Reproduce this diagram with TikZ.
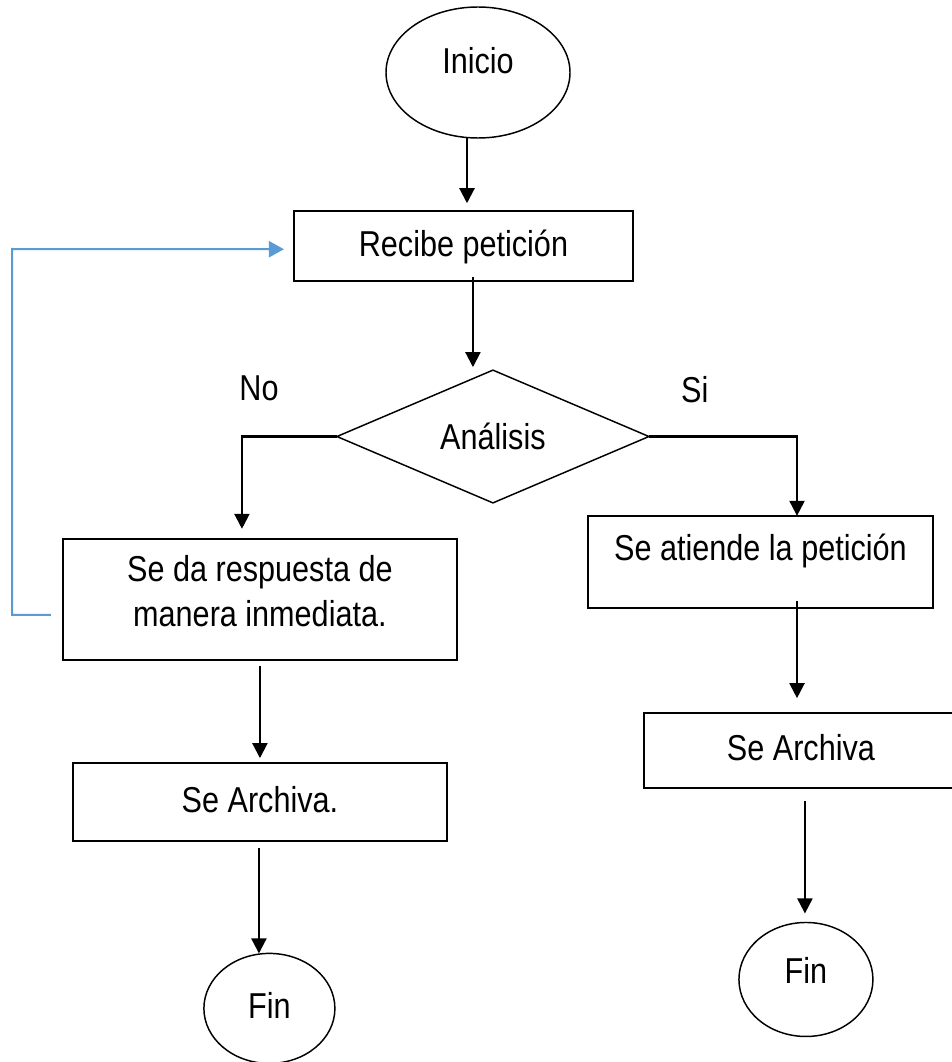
\documentclass[tikz,border=0pt]{standalone}
\usepackage{fontspec}
\setmainfont{Liberation Sans}[FakeStretch=0.85]
\usepackage{xcolor}
\usepackage{tikz}
\usetikzlibrary{shapes,arrows.meta,positioning}
\definecolor{azulretorno}{RGB}{91,155,213}

\begin{document}
\begin{tikzpicture}[x=0.75pt, y=-0.75pt, node distance=2cm, font=\fontsize{27}{33.75}\selectfont]
    % Define styles
    \tikzstyle{proceso} = [rectangle, draw=black, line width=1.3pt, inner sep=0pt, outer sep=0pt, text centered, align=center]
    \tikzstyle{linea} = [text height=20pt, text depth=5pt]
    \tikzstyle{decision} = [diamond, draw=black, line width=1.1pt, inner sep=0pt, outer sep=0pt, minimum width=234pt, minimum height=97.5pt, text height=20pt, text depth=0.5pt]
    \tikzstyle{terminal} = [ellipse, draw=black, line width=1.1pt, inner sep=0pt, outer sep=0pt, text height=20pt, text depth=5pt]
    \tikzstyle{etiqueta} = [text height=20pt, text depth=5pt, inner sep=0pt]
    \tikzstyle{flecha} = [-{Triangle[width=11.25pt,length=11.25pt]}, line width=1.6pt]
    \tikzstyle{retorno} = [-{Triangle[width=12pt,length=11.25pt]}, line width=1.5pt, draw=azulretorno]

    \useasboundingbox (0,0) rectangle (951,1062);

    % Nodes
    \node[terminal, minimum width=138pt, minimum height=98.25pt, text depth=19pt] (inicio) at (478,72.5) {Inicio};
    \node[proceso, linea, below of=inicio, xshift=-10.9pt, yshift=-73.4pt, minimum width=254.25pt, minimum height=52.5pt] (recibe) {Recibe petición};
    \node[decision, below of=recibe, xshift=22.1pt, yshift=-85.8pt] (analisis) {Análisis};
    \node[proceso, below of=analisis, xshift=-174.75pt, yshift=-65.2pt, minimum width=295.5pt, minimum height=90.75pt, text depth=12pt] (respuesta) {Se da respuesta de\\manera inmediata.};
    \node[proceso, linea, below of=analisis, xshift=200.65pt, yshift=-37.1pt, minimum width=258.75pt, minimum height=69pt, text depth=21.5pt] (atiende) {Se atiende la petición};
    \node[proceso, linea, below of=respuesta, yshift=-95.2pt, minimum width=280.5pt, minimum height=58.5pt] (archivaizq) {Se Archiva.};
    \node[terminal, below of=archivaizq, xshift=7.1pt, yshift=-97.8pt, minimum width=98.25pt, minimum height=82.5pt] (finizq) {Fin};
    \node[proceso, linea, below of=atiende, xshift=30.35pt, yshift=-84.7pt, minimum width=235.5pt, minimum height=56.25pt] (archivader) {Se Archiva};
    \node[terminal, below of=archivader, xshift=3.75pt, yshift=-114.7pt, minimum width=100.5pt, minimum height=85.5pt, text depth=14pt] (finder) {Fin};

    % Connections
    \draw[flecha, shorten >=6pt] ([xshift=-8.25pt]inicio.south) -- ([xshift=-8.25pt]inicio.south |- recibe.north);
    \draw[flecha, shorten <=-3pt, shorten >=2.25pt] ([xshift=7.1pt]recibe.south) -- ([xshift=7.1pt]recibe.south |- analisis.north);
    \draw[flecha, shorten >=7.5pt] (analisis.west) -| node[etiqueta, pos=0.41, yshift=34.5pt] (no) {No} ([xshift=-13.5pt]respuesta.north);
    \draw[flecha] (analisis.east) -| node[etiqueta, pos=0.155, yshift=33pt] (si) {Si} ([xshift=27.4pt]atiende.north);
    \draw[flecha, shorten <=4.5pt, shorten >=3.75pt] (respuesta.south) -- (archivaizq.north);
    \draw[flecha, shorten <=5.25pt] ([xshift=-0.75pt]archivaizq.south) -- ([xshift=-0.75pt]archivaizq.south |- finizq.north);
    \draw[flecha, shorten <=-5.25pt, shorten >=11.25pt] ([xshift=27.4pt]atiende.south) -- ([xshift=27.4pt]atiende.south |- archivader.north);
    \draw[flecha, shorten <=9.75pt, shorten >=6.75pt] ([xshift=3pt]archivader.south) -- ([xshift=3pt]archivader.south |- finder.north);

    % Return line
    \coordinate (esquina) at (12,249);
    \draw[retorno, shorten <=9pt, shorten >=7.5pt] ([yshift=-11.6pt]respuesta.west) -| (esquina) -- ([yshift=-2.25pt]recibe.west);
\end{tikzpicture}
\end{document}
